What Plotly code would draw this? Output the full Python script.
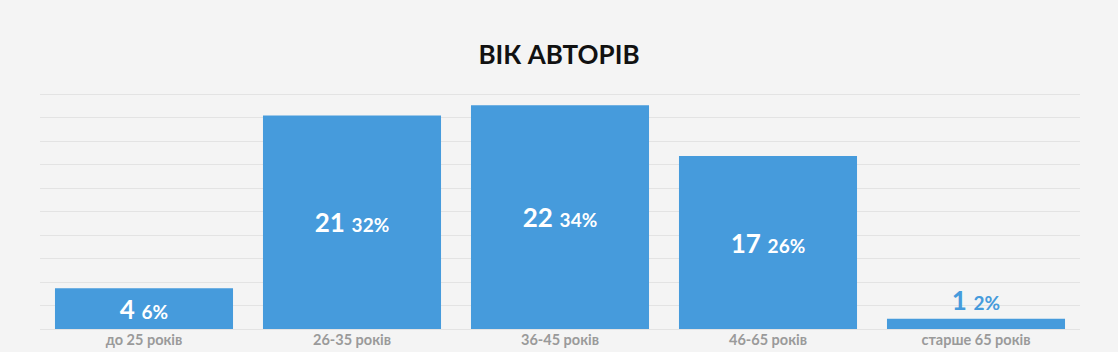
import plotly.graph_objects as go

categories = ["до 25 років", "26-35 років", "36-45 років", "46-65 років", "старше 65 років"]
counts = [4, 21, 22, 17, 1]
percents = ["6%", "32%", "34%", "26%", "2%"]
text_positions = ["inside", "inside", "inside", "inside", "outside"]

BLUE = "#469bdc"
FONT = "Lato, 'Open Sans', sans-serif"

labels = [f"<b>{c}</b> <span style='font-size:19px'><b>{p}</b></span>" for c, p in zip(counts, percents)]

fig = go.Figure(go.Bar(
    x=categories,
    y=counts,
    text=labels,
    textposition=text_positions,
    texttemplate="%{text}",
    insidetextanchor="middle",
    textangle=0,
    constraintext="none",
    cliponaxis=False,
    marker=dict(color=BLUE, line=dict(width=0)),
    insidetextfont=dict(color="white", size=26, family=FONT),
    outsidetextfont=dict(color=BLUE, size=26, family=FONT),
    hoverinfo="skip",
))

fig.update_layout(
    width=1118, height=352,
    margin=dict(l=40, r=38, t=92, b=23),
    paper_bgcolor="#f4f4f4",
    plot_bgcolor="#f4f4f4",
    bargap=0.144,
    showlegend=False,
    title=dict(text="<b>ВІК АВТОРІВ</b>", x=0.5, xanchor="center", y=0.845, yanchor="middle",
               font=dict(size=26, color="#111111", family=FONT)),
    xaxis=dict(showgrid=False, showline=False, zeroline=False, ticks="",
               tickfont=dict(size=14.5, color="#9a9a9a", family=FONT),
               automargin=False, ticklabelstandoff=0),
    yaxis=dict(range=[0, 23.3], dtick=2.308, tick0=0, showticklabels=False,
               gridcolor="#e3e3e3", gridwidth=1, zeroline=True, zerolinecolor="#e3e3e3",
               zerolinewidth=1, showline=False, ticks="", automargin=False),
)
fig.update_xaxes(tickprefix="<b>", ticksuffix="</b>")

fig.write_html("out.html")
